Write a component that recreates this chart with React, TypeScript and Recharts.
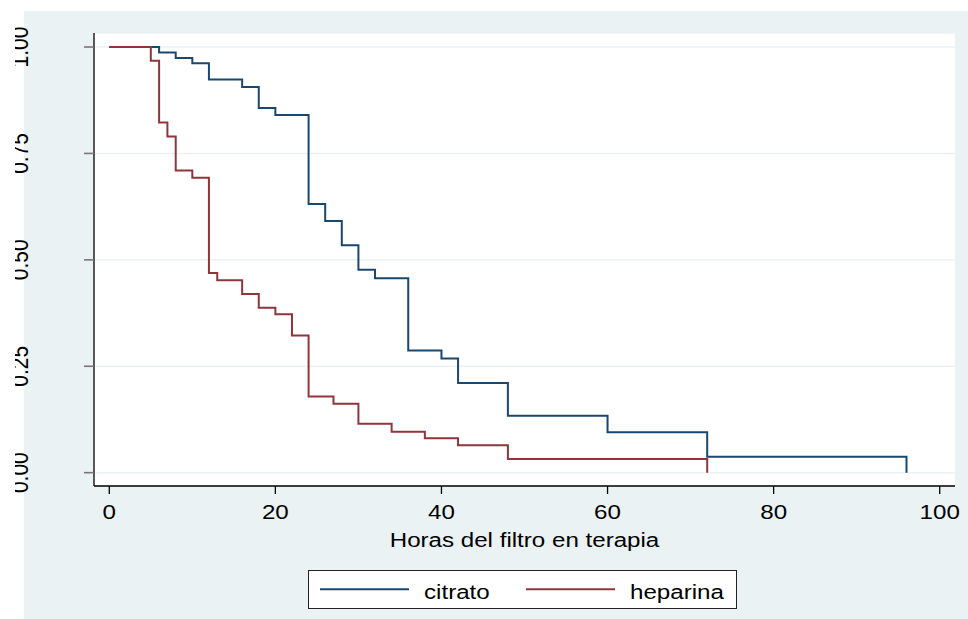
import { LineChart, Line, XAxis, YAxis, CartesianGrid, Label } from 'recharts'

// Kaplan-Meier: horas del filtro en terapia
const citratoTimes = [0, 6, 8, 10, 12, 16, 18, 20, 24, 26, 28, 30, 32, 36, 40, 42, 48, 60, 72, 96]
const citratoSurv = [1, 0.987, 0.974, 0.962, 0.9235, 0.906, 0.857, 0.84, 0.631, 0.5915, 0.5345, 0.4765, 0.457, 0.2873, 0.2685, 0.2106, 0.1338, 0.0948, 0.0376, 0]

const heparinaTimes = [0, 5, 6, 7, 8, 10, 12, 13, 16, 18, 20, 22, 24, 27, 30, 34, 38, 42, 48, 72]
const heparinaSurv = [1, 0.968, 0.8225, 0.79, 0.71, 0.693, 0.469, 0.452, 0.42, 0.3873, 0.372, 0.3225, 0.1789, 0.162, 0.1148, 0.0962, 0.0808, 0.0643, 0.0322, 0]

const xTicks = [0, 20, 40, 60, 80, 100]
const yTicks = [0, 0.25, 0.5, 0.75, 1]

const series = [
  { name: 'citrato', color: '#1a476f', times: citratoTimes, surv: citratoSurv },
  { name: 'heparina', color: '#90353b', times: heparinaTimes, surv: heparinaSurv },
]

const FONT = '"Liberation Sans", Arial, sans-serif'
const STRETCH = 1.15

const YTick = ({ y, payload }: any) => (
  <text
    transform={`translate(27.5,${y}) scale(${STRETCH},1) rotate(-90)`}
    textAnchor="middle"
    fontSize={21}
    fontFamily={FONT}
    fill="#000"
  >
    {Number(payload.value).toFixed(2)}
  </text>
)

const XTick = ({ x, payload }: any) => (
  <text
    transform={`translate(${x},518.5) scale(${STRETCH},1)`}
    textAnchor="middle"
    fontSize={21}
    fontFamily={FONT}
    fill="#000"
  >
    {payload.value}
  </text>
)

const renderTitle = ({ viewBox }: any) => {
  const cx = viewBox ? viewBox.x + viewBox.width / 2 : 524.5
  return (
    <text
      transform={`translate(${cx},547) scale(${STRETCH},1)`}
      textAnchor="middle"
      fontSize={21}
      fontFamily={FONT}
      fill="#000"
    >
      Horas del filtro en terapia
    </text>
  )
}

export default function App() {
  const lines = series.map(s => ({
    ...s,
    data: s.times.map((t, i) => ({ t, s: s.surv[i] })),
  }))

  return (
    <div style={{ position: 'absolute', left: 0, top: 0, width: 968, height: 619, background: '#fff' }}>
      {/* fondo del gráfico */}
      <div style={{ position: 'absolute', left: 24, top: 11, width: 944, height: 608, background: '#eaf2f3' }} />

      <div style={{ position: 'absolute', left: 0, top: 0 }}>
        <LineChart width={968} height={619} margin={{ top: 33, right: 13, left: 24, bottom: 93 }}>
          <CartesianGrid
            horizontal
            vertical={false}
            fill="#ffffff"
            stroke="#eaf2f3"
            strokeWidth={1.5}
          />
          <XAxis
            type="number"
            dataKey="t"
            domain={[-1.84, 101.84]}
            ticks={xTicks}
            allowDataOverflow
            height={40}
            tick={<XTick />}
            tickSize={8}
            tickLine={{ stroke: '#000', strokeWidth: 1.3 }}
            axisLine={{ stroke: '#000', strokeWidth: 1.3 }}
            interval={0}
          >
            <Label content={renderTitle} />
          </XAxis>
          <YAxis
            type="number"
            dataKey="s"
            domain={[-0.0313, 1.0329]}
            ticks={yTicks}
            allowDataOverflow
            width={70}
            tick={<YTick />}
            tickSize={10}
            tickLine={{ stroke: '#777', strokeWidth: 1.6 }}
            axisLine={{ stroke: '#000', strokeWidth: 1.3 }}
            interval={0}
          />
          {lines.map(l => (
            <Line
              key={l.name}
              data={l.data}
              dataKey="s"
              name={l.name}
              type="stepAfter"
              stroke={l.color}
              strokeWidth={2}
              dot={false}
              activeDot={false}
              isAnimationActive={false}
            />
          ))}
        </LineChart>
      </div>

      {/* recorte del borde izquierdo */}
      <div style={{ position: 'absolute', left: 0, top: 0, width: 15, height: 619, background: '#fff' }} />

      {/* leyenda */}
      <div
        style={{
          position: 'absolute',
          left: 308,
          top: 570,
          width: 429,
          height: 39,
          border: '1px solid #222',
          background: '#fff',
          boxSizing: 'border-box',
        }}
      >
        <svg width={427} height={37} style={{ display: 'block' }}>
          {series.map((s, i) => {
            const x0 = i === 0 ? 11 : 217
            const tx = i === 0 ? 115 : 321
            return (
              <g key={s.name}>
                <line x1={x0} x2={x0 + 89} y1={18.3} y2={18.3} stroke={s.color} strokeWidth={2} />
                <text
                  transform={`translate(${tx},27.5) scale(${STRETCH},1)`}
                  fontSize={21}
                  fontFamily={FONT}
                  fill="#000"
                >
                  {s.name}
                </text>
              </g>
            )
          })}
        </svg>
      </div>
    </div>
  )
}
